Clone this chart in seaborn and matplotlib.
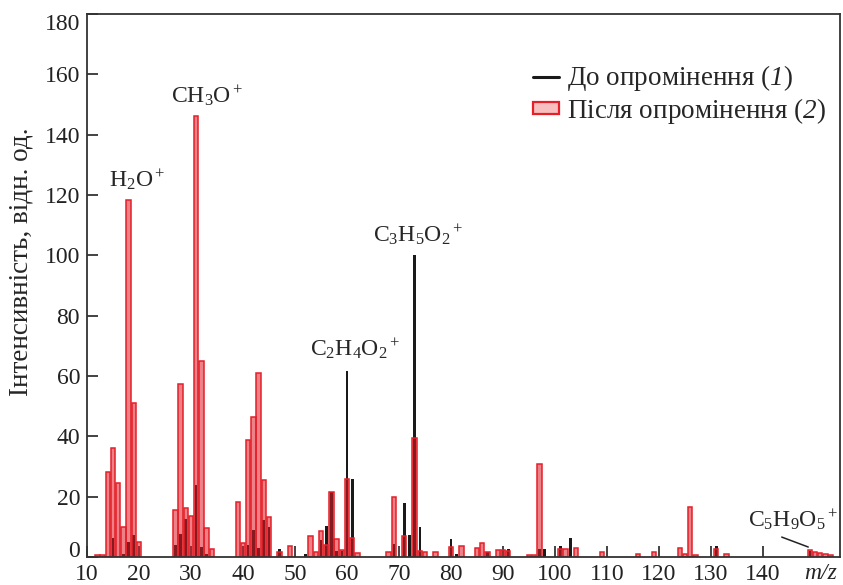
import pandas as pd
import matplotlib
matplotlib.use("Agg")
import matplotlib.pyplot as plt
from matplotlib.lines import Line2D
from matplotlib.patches import Patch
import seaborn as sns

# m/z and intensity before irradiation (1)
mz_before = [15, 17, 18, 19,
             27, 28, 29, 31, 32, 33,
             41, 42, 43, 44, 45, 47,
             52, 55, 56, 57, 58, 59, 60, 61,
             69, 71, 72, 73, 74,
             80, 81, 87, 91, 97, 98, 101, 103,
             131, 149]
int_before = [6.3, 1, 5, 7.3,
              4, 7.5, 12.5, 23.9, 3.4, 1,
              4, 9, 3, 12.3, 10, 2.6,
              1, 5.5, 10.3, 21.5, 2, 2, 61.5, 26,
              4.3, 18, 7.3, 100, 10,
              5.8, 1, 1.5, 2.8, 2.6, 2.6, 3.6, 6.4,
              3.8, 2]

# m/z and intensity after irradiation (2)
mz_after = [12, 13, 14, 15, 16, 17, 18, 19, 20,
            27, 28, 29, 30, 31, 32, 33, 34,
            39, 40, 41, 42, 43, 44, 45, 47, 49,
            53, 54, 55, 56, 57, 58, 59, 60, 61, 62,
            68, 69, 71, 73, 74, 75, 77,
            80, 82, 85, 86, 87, 89, 90, 91, 95, 96, 97, 101, 102, 104,
            109, 116, 119, 124, 125, 126, 127, 131, 133,
            149, 150, 151, 152, 153]
int_after = [0.7, 0.5, 28.3, 36, 24.4, 10, 118.4, 51, 5.1,
             15.6, 57.4, 16.4, 13.5, 146.3, 65, 9.5, 2.6,
             18.2, 4.7, 38.8, 46.5, 61, 25.5, 13.4, 1.5, 3.7,
             7, 1.5, 8.6, 4, 21.5, 6, 2.3, 26, 6.2, 1.4,
             1.8, 19.8, 7, 39.4, 2, 1.5, 1.5,
             3.4, 3.6, 3, 4.5, 1.5, 2.3, 2.3, 2, 0.7, 0.8, 30.7, 2.5, 2.5, 3,
             1.5, 1, 1.5, 2.9, 1, 16.5, 0.7, 2.5, 1,
             2.2, 1.5, 1.3, 1, 0.8]

# ion labels: text, x, y
ion_labels = [
    (r"H$_2$O$^+$", 19.6, 125),
    (r"CH$_3$O$^+$", 33, 153),
    (r"C$_2$H$_4$O$_2$$^+$", 61.5, 69),
    (r"C$_3$H$_5$O$_2$$^+$", 73.7, 107),
    (r"C$_5$H$_9$O$_5$$^+$", 145.8, 12.3),
]

sns.set_style("ticks")
plt.rcParams['font.family'] = ['Liberation Serif', 'DejaVu Serif']
plt.rcParams['mathtext.fontset'] = 'custom'
plt.rcParams['mathtext.rm'] = 'Liberation Serif'
plt.rcParams['mathtext.it'] = 'Liberation Serif:italic'
# italic digits for legend numbers (the "it" slot forces digits upright)
plt.rcParams['mathtext.sf'] = 'Liberation Serif:italic'

red_edge = (0.90, 0.12, 0.16)
red_face = (0.88, 0.10, 0.14, 0.55)

before = pd.DataFrame({'mz': mz_before, 'intensity': int_before})
after = pd.DataFrame({'mz': mz_after, 'intensity': int_after})

fig = plt.figure(figsize=(8.43, 5.85), dpi=100)
ax = fig.add_axes([0.1032, 0.0479, 0.8932, 0.9281])

sns.barplot(data=before, x='mz', y='intensity', native_scale=True, errorbar=None,
            width=0.5, facecolor='#1a1a1a', edgecolor='none', linewidth=0, ax=ax)
sns.barplot(data=after, x='mz', y='intensity', native_scale=True, errorbar=None,
            width=0.85, facecolor=red_face, edgecolor=red_edge, linewidth=1.1, ax=ax)

ax.set_xlim(10, 154.8)
ax.set_ylim(0, 180)
ax.set_xticks(range(10, 141, 10))
ax.set_yticks(range(0, 181, 20))
ax.tick_params(direction='in', length=8, width=1.2, labelsize=17, pad=5, colors='#222222')
for s in ax.spines.values():
    s.set_visible(True)
    s.set_linewidth(1.3)
    s.set_color('#333333')

# end labels of the y axis sit inside the frame, as in the original
yticks = ax.yaxis.get_major_ticks()
yticks[0].label1.set_va('baseline')
yticks[-1].label1.set_va('top')

ax.set_xlabel('')
ax.set_ylabel('Інтенсивність, відн. од.', fontsize=19.5)
ax.yaxis.set_label_coords(-0.071, 0.543)
ax.text(151.0, -0.012, 'm/z', transform=ax.get_xaxis_transform(),
        ha='center', va='top', fontsize=17, style='italic')

for txt, x, y in ion_labels:
    ax.text(x, y, txt, ha='center', va='center', fontsize=17)
ax.plot([143.6, 148.7], [6.6, 3.3], color='#222222', lw=1.1)

handles = [Line2D([0], [0], color='#1a1a1a', lw=2.2),
           Patch(facecolor=(0.97, 0.75, 0.75), edgecolor=red_edge, linewidth=1.6)]
labels = [r'До опромінення ($\mathsf{1}$)', r'Після опромінення ($\mathsf{2}$)']
ax.legend(handles, labels, loc='upper right', bbox_to_anchor=(1.007, 0.945),
          frameon=False, fontsize=19.5, handlelength=0.95, handleheight=0.3,
          handletextpad=0.3, labelspacing=0.12, borderpad=0.2)

fig.savefig('out.png', dpi=100)
